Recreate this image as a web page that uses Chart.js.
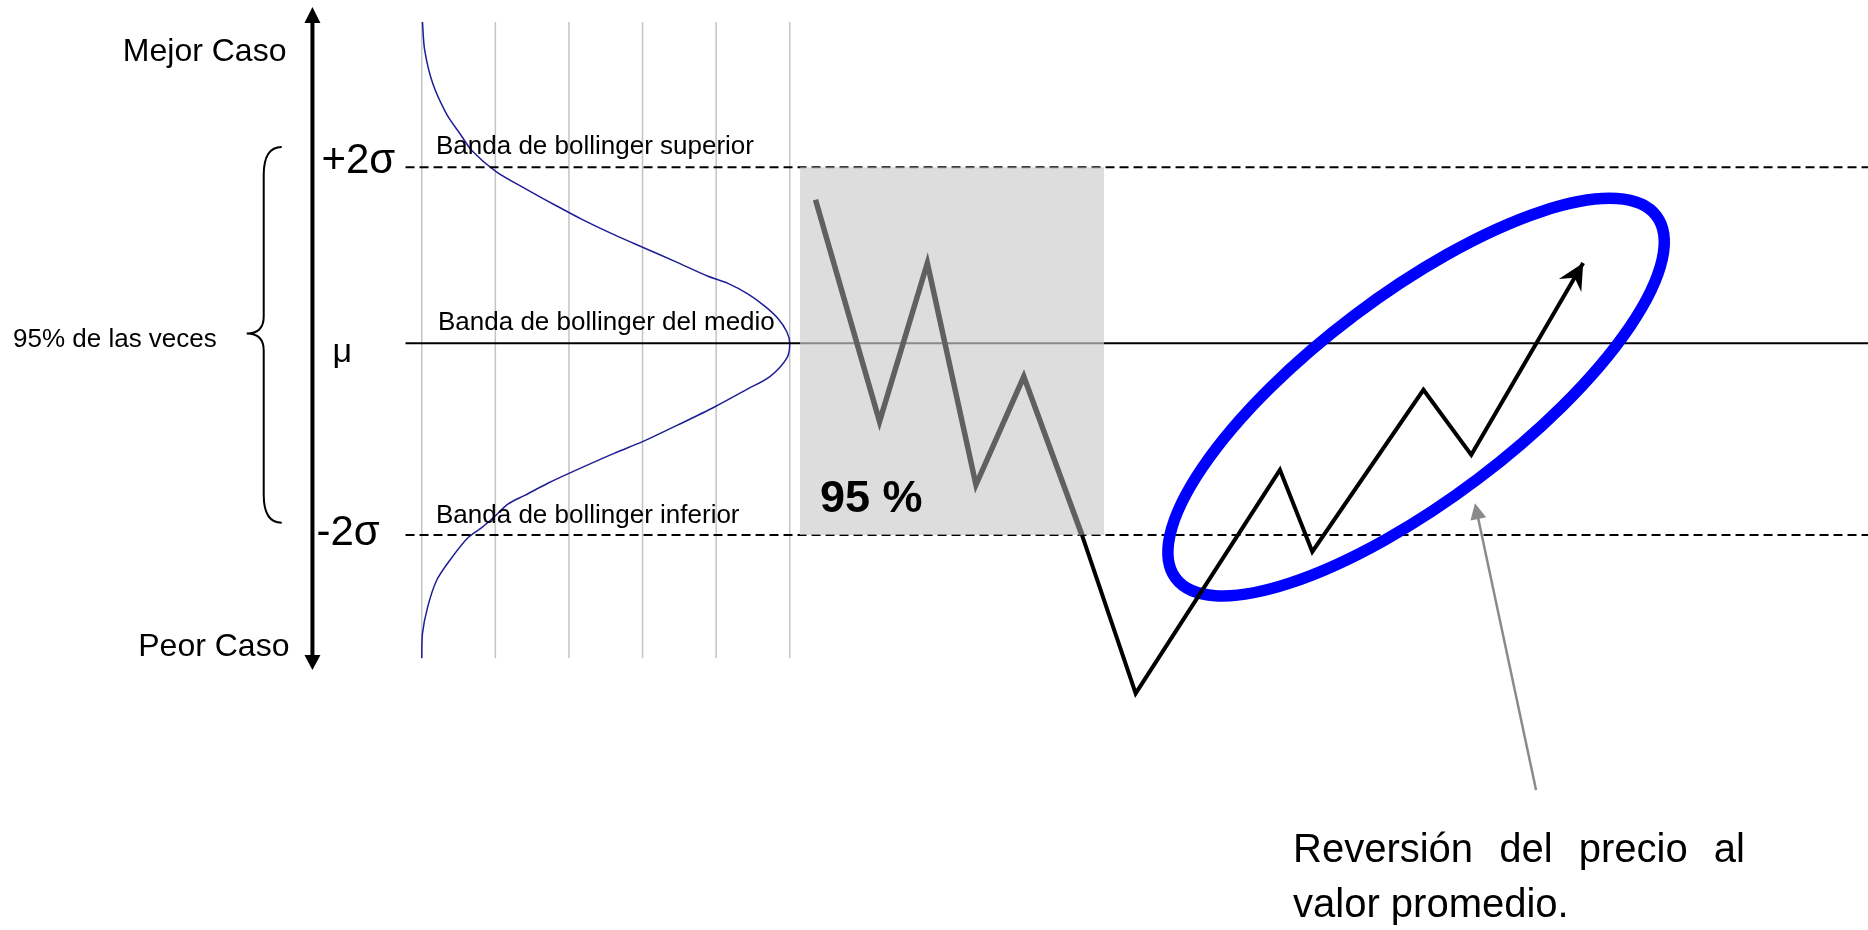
<!DOCTYPE html>
<html>
<head>
<meta charset="utf-8">
<title>Bandas de Bollinger</title>
<script src="https://cdn.jsdelivr.net/npm/chart.js@4.4.1/dist/chart.umd.min.js"></script>
<style>
  html, body { margin: 0; padding: 0; background: #fff; }
</style>
</head>
<body>
<canvas id="chart" width="1868" height="930"></canvas>
<script>
"use strict";

// bandas (la inferior queda algo mas lejos del medio en el dibujo)
var bandLevels = [2, 0, -2.18];
var bandLabels = ['Banda de bollinger superior', 'Banda de bollinger del medio', 'Banda de bollinger inferior'];
var sideLabels = ['+2σ', 'μ', '-2σ'];

// eje de densidad de la campana (lineas verticales grises)
var densityTicks = [0, 1, 2, 3, 4, 5];

// campana: densidad (x) contra sigma (y)
var bellDensity = [0.01, 0.04, 0.15, 0.34, 0.52, 0.68, 1.01, 1.40, 1.81, 2.17, 2.62, 3.00, 3.44, 3.89, 4.16,
                   4.43, 4.66, 4.84, 4.96, 5.00, 4.96, 4.73, 4.43, 3.99, 3.53, 3.00, 2.62, 2.00, 1.72, 1.40,
                   1.17, 0.99, 0.81, 0.63, 0.38, 0.20, 0.08, 0.01, 0.00];
var bellSigma = [3.65, 3.33, 2.95, 2.60, 2.38, 2.19, 1.95, 1.76, 1.57, 1.41, 1.23, 1.09, 0.93, 0.76, 0.68,
                 0.56, 0.42, 0.28, 0.13, 0.00, -0.17, -0.38, -0.52, -0.72, -0.91, -1.12, -1.25, -1.48, -1.59, -1.73,
                 -1.83, -1.97, -2.10, -2.21, -2.47, -2.70, -3.00, -3.30, -3.58];

// precio dentro de las bandas (gris)
var insideTime = [5.35, 6.22, 6.87, 7.53, 8.18, 8.97];
var insidePrice = [1.63, -0.89, 0.91, -1.61, -0.38, -2.18];

// ruptura y reversion al promedio (negro)
var reversionTime = [8.97, 9.70, 11.66, 12.10, 13.61, 14.26, 15.78];
var reversionPrice = [-2.18, -3.98, -1.44, -2.37, -0.53, -1.27, 0.91];

// zona del 95 %
var zoneTime = [5.14, 9.27];
var zoneLabel = '95 %';

var X_MIN = -5.73, X_MAX = 19.65;
var Y_MIN = -6.67, Y_MAX = 3.90;
var GRID_TOP = 3.65, GRID_BOTTOM = -3.58;
var BAND_START = -0.22;
var FONT = '"Liberation Sans", Arial, sans-serif';

function points(xs, ys) {
    return xs.map(function (x, i) { return {x: x, y: ys[i]}; });
}

var datasets = [];
densityTicks.forEach(function (d) {
    datasets.push({
        label: 'grid',
        data: [{x: d, y: GRID_TOP}, {x: d, y: GRID_BOTTOM}],
        borderColor: '#c4c4c4',
        borderWidth: 1.5,
        order: 100
    });
});
datasets.push({
    label: 'campana',
    data: points(bellDensity, bellSigma),
    borderColor: '#1e1e96',
    borderWidth: 1.5,
    tension: 0.3,
    order: 90
});
bandLevels.forEach(function (lv) {
    datasets.push({
        label: 'banda',
        data: [{x: BAND_START, y: lv}, {x: X_MAX, y: lv}],
        borderColor: '#000',
        borderWidth: 2,
        borderDash: lv === 0 ? [] : [9, 5],
        order: 80
    });
});
datasets.push({
    label: 'zona',
    data: zoneTime.map(function (t) { return {x: t, y: bandLevels[0]}; }),
    borderColor: 'rgba(0,0,0,0)',
    borderWidth: 0,
    backgroundColor: 'rgba(204,204,204,0.67)',
    fill: {value: bandLevels[2]},
    order: 70
});
datasets.push({
    label: 'dentro',
    data: points(insideTime, insidePrice),
    borderColor: '#606060',
    borderWidth: 5.5,
    order: 60
});
datasets.push({
    label: 'reversion',
    data: points(reversionTime, reversionPrice),
    borderColor: '#000',
    borderWidth: 4,
    order: 50
});

function px(chart, x) { return chart.scales.x.getPixelForValue(x); }
function py(chart, y) { return chart.scales.y.getPixelForValue(y); }

function arrowHead(ctx, fx, fy, tx, ty, len, half, back, color) {
    var ang = Math.atan2(ty - fy, tx - fx);
    ctx.save();
    ctx.translate(tx, ty);
    ctx.rotate(ang);
    ctx.fillStyle = color;
    ctx.beginPath();
    ctx.moveTo(0, 0);
    ctx.lineTo(-len, -half);
    ctx.lineTo(-back, 0);
    ctx.lineTo(-len, half);
    ctx.closePath();
    ctx.fill();
    ctx.restore();
}

function drawEllipse(chart) {
    var ctx = chart.ctx;
    ctx.save();
    ctx.strokeStyle = '#0000ff';
    ctx.lineWidth = 11.5;
    ctx.beginPath();
    ctx.ellipse(px(chart, 13.51), py(chart, -0.614), 301, 102.5, -37 * Math.PI / 180, 0, Math.PI * 2);
    ctx.stroke();
    ctx.restore();
}

var annotations = {
    id: 'annotations',
    afterDatasetDraw: function (chart, args) {
        if (chart.data.datasets[args.index].label === 'zona') {
            drawEllipse(chart);
        }
    },
    afterDatasetsDraw: function (chart) {
        var ctx = chart.ctx;
        ctx.save();

        // punta de flecha del precio
        var n = reversionTime.length;
        arrowHead(ctx, px(chart, reversionTime[n - 2]), py(chart, reversionPrice[n - 2]),
            px(chart, reversionTime[n - 1]), py(chart, reversionPrice[n - 1]), 26, 13, 17, '#000');

        // flecha gris hacia la elipse
        var gx0 = px(chart, 15.14), gy0 = py(chart, -5.08);
        var gx1 = px(chart, 14.31), gy1 = py(chart, -1.82);
        var gl = Math.hypot(gx1 - gx0, gy1 - gy0);
        ctx.strokeStyle = '#8a8a8a';
        ctx.lineWidth = 2.5;
        ctx.beginPath();
        ctx.moveTo(gx0, gy0);
        ctx.lineTo(gx1 - (gx1 - gx0) / gl * 12, gy1 - (gy1 - gy0) / gl * 12);
        ctx.stroke();
        arrowHead(ctx, gx0, gy0, gx1, gy1, 16, 8, 16, '#8a8a8a');

        // eje vertical con dos puntas
        var ax = px(chart, -1.485), at = py(chart, 3.82), ab = py(chart, -3.716);
        ctx.strokeStyle = '#000';
        ctx.lineWidth = 4;
        ctx.beginPath();
        ctx.moveTo(ax, at + 14);
        ctx.lineTo(ax, ab - 12);
        ctx.stroke();
        arrowHead(ctx, ax, ab, ax, at, 16, 8, 16, '#000');
        arrowHead(ctx, ax, at, ax, ab, 15, 8, 15, '#000');

        // llave del 95 %
        var bx = px(chart, -2.147), bt = py(chart, 2.23), bb = py(chart, -2.04), bm = py(chart, 0.11);
        ctx.lineWidth = 2;
        ctx.beginPath();
        ctx.moveTo(bx + 18, bt);
        ctx.quadraticCurveTo(bx, bt, bx, bt + 28);
        ctx.lineTo(bx, bm - 17);
        ctx.quadraticCurveTo(bx, bm, bx - 17, bm);
        ctx.quadraticCurveTo(bx, bm, bx, bm + 17);
        ctx.lineTo(bx, bb - 28);
        ctx.quadraticCurveTo(bx, bb, bx + 18, bb);
        ctx.stroke();

        // textos
        ctx.fillStyle = '#000';
        ctx.textBaseline = 'alphabetic';
        ctx.textAlign = 'right';
        ctx.font = '32px ' + FONT;
        ctx.fillText('Mejor Caso', ax - 26, 61);
        ctx.fillText('Peor Caso', ax - 23, 656);

        ctx.textAlign = 'left';
        ctx.font = '26px ' + FONT;
        ctx.fillText('95% de las veces', 13, 347);

        ctx.font = '42px ' + FONT;
        ctx.fillText(sideLabels[0], ax + 9, py(chart, bandLevels[0]) + 6);
        ctx.fillText(sideLabels[2], ax + 4, py(chart, bandLevels[2]) + 10);
        ctx.font = '34px ' + FONT;
        ctx.fillText(sideLabels[1], ax + 20, py(chart, bandLevels[1]) + 19);

        ctx.font = '26px ' + FONT;
        ctx.fillText(bandLabels[0], 436, py(chart, bandLevels[0]) - 13);
        ctx.fillText(bandLabels[1], 438, py(chart, bandLevels[1]) - 13);
        ctx.fillText(bandLabels[2], 436, py(chart, bandLevels[2]) - 12);

        ctx.font = 'bold 45px ' + FONT;
        ctx.fillText(zoneLabel, px(chart, zoneTime[0]) + 20, py(chart, bandLevels[2]) - 23);

        // nota justificada
        ctx.font = '40px ' + FONT;
        var words = ['Reversión', 'del', 'precio', 'al'];
        var left = 1293, right = 1745;
        var total = words.reduce(function (s, w) { return s + ctx.measureText(w).width; }, 0);
        var gap = (right - left - total) / (words.length - 1);
        var cx = left;
        words.forEach(function (w) {
            ctx.fillText(w, cx, 862);
            cx += ctx.measureText(w).width + gap;
        });
        ctx.fillText('valor promedio.', left, 917);

        ctx.restore();
    }
};

new Chart(document.getElementById('chart'), {
    type: 'line',
    data: {datasets: datasets},
    options: {
        responsive: false,
        animation: false,
        events: [],
        layout: {padding: 0},
        elements: {
            point: {radius: 0, hoverRadius: 0},
            line: {fill: false, borderJoinStyle: 'miter', borderCapStyle: 'butt'}
        },
        plugins: {
            legend: {display: false},
            tooltip: {enabled: false}
        },
        scales: {
            x: {type: 'linear', min: X_MIN, max: X_MAX, display: false},
            y: {type: 'linear', min: Y_MIN, max: Y_MAX, display: false}
        }
    },
    plugins: [annotations]
});
</script>
</body>
</html>
